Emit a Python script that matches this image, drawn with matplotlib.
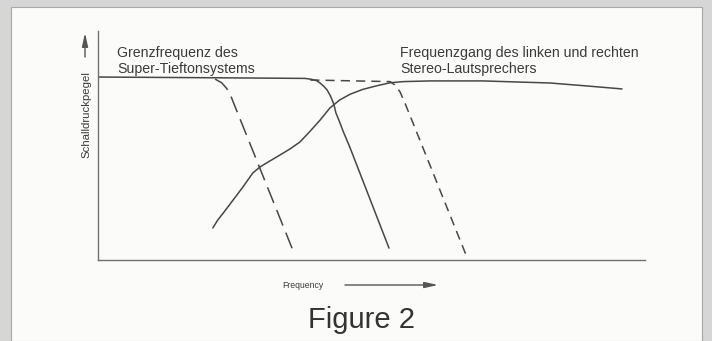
import matplotlib
matplotlib.use("Agg")
import matplotlib.pyplot as plt
from matplotlib.patches import Rectangle

# Frequency (0-100, relative) and sound level (0-100, relative)
sub_flat_f = [0.0, 20.0, 37.8, 38.8, 39.9, 40.6, 41.3, 41.9, 42.5, 43.1, 43.5,
              44.1, 44.8, 46.1, 53.2]
sub_flat_l = [79.9, 79.6, 79.3, 79.0, 78.4, 77.3, 75.8, 74.2, 71.6, 68.1, 64.2,
              60.7, 56.3, 48.9, 5.2]

sub_cut_f = [21.4, 22.6, 23.5, 24.1, 24.7, 35.6]
sub_cut_l = [79.0, 77.4, 75.0, 72.8, 69.1, 4.4]

ext_cut_f = [38.8, 53.4, 54.3, 55.2, 56.1, 57.0, 67.5]
ext_cut_l = [78.6, 77.9, 76.4, 73.5, 68.6, 63.3, 0.9]

stereo_f = [21.0, 21.9, 22.9, 24.7, 26.5, 28.3, 29.6, 31.4, 33.3, 35.1, 36.9,
            38.8, 40.6, 42.4, 44.2, 46.1, 48.4, 51.0, 53.4, 55.8, 60.7, 70.4,
            77.1, 82.6, 89.4, 95.8]
stereo_l = [14.0, 17.5, 20.5, 26.2, 31.9, 38.0, 40.6, 43.2, 45.9, 48.5, 51.5,
            56.3, 61.1, 66.4, 69.9, 72.4, 74.5, 76.1, 77.4, 77.9, 78.2, 78.2,
            77.7, 77.3, 76.0, 74.7]

label_sub = "Grenzfrequenz des\nSuper-Tieftonsystems"
label_stereo = "Frequenzgang des linken und rechten\nStereo-Lautsprechers"
y_label = "Schalldruckpegel"
x_label = "Frequency"
caption = "Figure 2"

W, H = 712, 341
fig = plt.figure(figsize=(W / 100, H / 100), dpi=100)
fig.patch.set_facecolor("#d6d6d6")

# white sheet with a faint edge, kept beneath the axes
fig.patches.append(Rectangle((11 / W, 0), (702 - 11) / W, 1 - 7 / H,
                             transform=fig.transFigure, facecolor="#fbfbfa",
                             edgecolor="#a8a8a8", linewidth=0.8, zorder=-5))

ax = fig.add_axes([98 / W, 1 - 260 / H, (645 - 98) / W, (260 - 31) / H], zorder=1)
ax.set_xlim(0, 100)
ax.set_ylim(0, 100)
ax.patch.set_alpha(0)
for s in ("top", "right"):
    ax.spines[s].set_visible(False)
for s in ("left", "bottom"):
    ax.spines[s].set_color("#707070")
    ax.spines[s].set_linewidth(1.0)
ax.set_xticks([])
ax.set_yticks([])

ink = "#474747"
lw = 1.1
ax.plot(sub_flat_f, sub_flat_l, color=ink, lw=lw, solid_capstyle="round",
        solid_joinstyle="round")
ax.plot(sub_cut_f, sub_cut_l, color=ink, lw=lw, dashes=(11, 5))
ax.plot(ext_cut_f, ext_cut_l, color=ink, lw=lw, dashes=(6, 4))
ax.plot(stereo_f, stereo_l, color=ink, lw=lw, solid_capstyle="round",
        solid_joinstyle="round")

font = ["Liberation Sans Narrow", "Liberation Sans", "DejaVu Sans"]
txt = "#3a3a3a"

fig.text(117 / W, 1 - 73 / H, label_sub, family=font, fontsize=10.2,
         color=txt, ha="left", va="baseline", linespacing=1.15)
fig.text(400 / W, 1 - 73 / H, label_stereo, family=font, fontsize=10.2,
         color=txt, ha="left", va="baseline", linespacing=1.15)

fig.text(86 / W, 1 - 115 / H, y_label, family=["Liberation Sans", "DejaVu Sans"],
         fontsize=8.2, color=txt, rotation=90, ha="center", va="center")
fig.text(282 / W, 1 - 285 / H, x_label, family=["Liberation Sans", "DejaVu Sans"],
         fontsize=6.2, color=txt, ha="left", va="center")
fig.text(362 / W, 1 - 320 / H, caption, family=font, fontsize=21,
         color="#333333", ha="center", va="center")

arrow = dict(arrowstyle="-|>,head_length=0.8,head_width=0.18", color="#555555",
             lw=1.0, shrinkA=0, shrinkB=0)
ax.annotate("", xy=(438 / W, 1 - 285 / H), xytext=(345 / W, 1 - 285 / H),
            xycoords="figure fraction", textcoords="figure fraction",
            arrowprops=arrow, annotation_clip=False)
ax.annotate("", xy=(85 / W, 1 - 33 / H), xytext=(85 / W, 1 - 57 / H),
            xycoords="figure fraction", textcoords="figure fraction",
            arrowprops=arrow, annotation_clip=False)

fig.savefig("out.png", dpi=100, facecolor=fig.get_facecolor())
